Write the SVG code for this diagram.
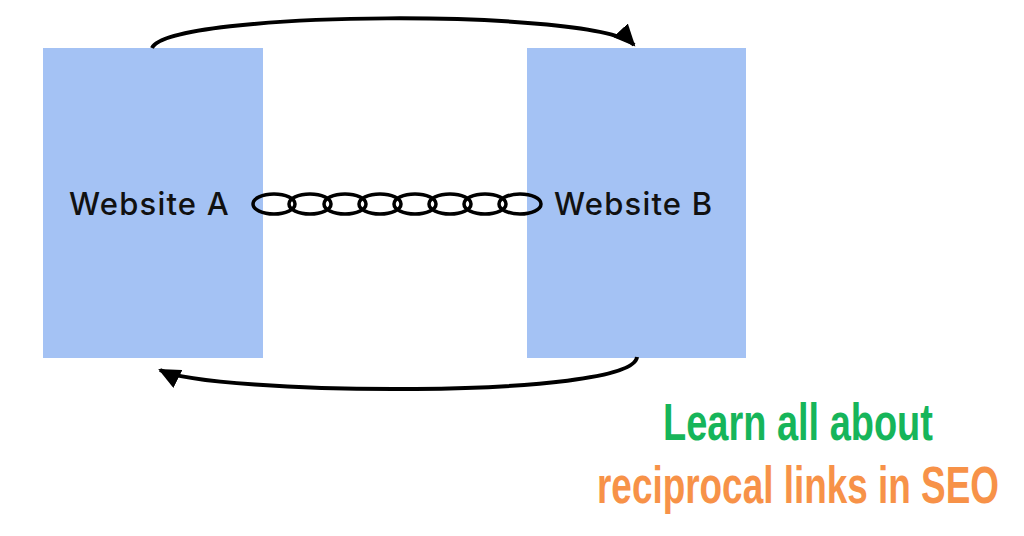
<svg xmlns="http://www.w3.org/2000/svg" width="1024" height="536" viewBox="0 0 1024 536">
<style>
.box{fill:#a4c2f4}
.lbl{font-family:"Inter","Liberation Sans",sans-serif;font-size:31px;fill:#111;font-weight:500;letter-spacing:1.2px}
.arc{fill:none;stroke:#000;stroke-width:4}
.ln{fill:none;stroke:#000;stroke-width:3.5}
.big{font-family:"Liberation Sans",sans-serif;font-weight:bold;font-size:52px}
</style>
<defs><marker id="ah" markerWidth="24" markerHeight="20" refX="20" refY="10" orient="auto" markerUnits="userSpaceOnUse"><path d="M0,0 L22,10 L0,20 z" fill="#000"/></marker></defs>
<rect width="1024" height="536" fill="#fff"/>
<g id="siteA"><rect class="box" x="43" y="48" width="220" height="310"/><text class="lbl" x="69" y="215">Website A</text></g>
<g id="siteB"><rect class="box" x="527" y="48" width="219" height="310"/><text class="lbl" x="554" y="215">Website B</text></g>
<g id="connectors">
<path class="arc" d="M152,48 C170,10 600,8 634,45" marker-end="url(#ah)"/>
<path class="arc" d="M637,357 C632,400 210,395 160,370" marker-end="url(#ah)"/>
<g id="chain">
<ellipse class="ln" cx="274" cy="204" rx="21" ry="10"/>
<ellipse class="ln" cx="310" cy="204" rx="21" ry="10"/>
<ellipse class="ln" cx="345" cy="204" rx="21" ry="10"/>
<ellipse class="ln" cx="380" cy="204" rx="21" ry="10"/>
<ellipse class="ln" cx="415" cy="204" rx="21" ry="10"/>
<ellipse class="ln" cx="450" cy="204" rx="21" ry="10"/>
<ellipse class="ln" cx="485" cy="204" rx="21" ry="10"/>
<ellipse class="ln" cx="520" cy="204" rx="21" ry="10"/>
</g>
</g>
<text class="big" fill="#16b55a" transform="translate(663,440) scale(0.73,1)">Learn all about</text>
<text class="big" fill="#f79248" transform="translate(597,503) scale(0.71,1)">reciprocal links in SEO</text>
</svg>
